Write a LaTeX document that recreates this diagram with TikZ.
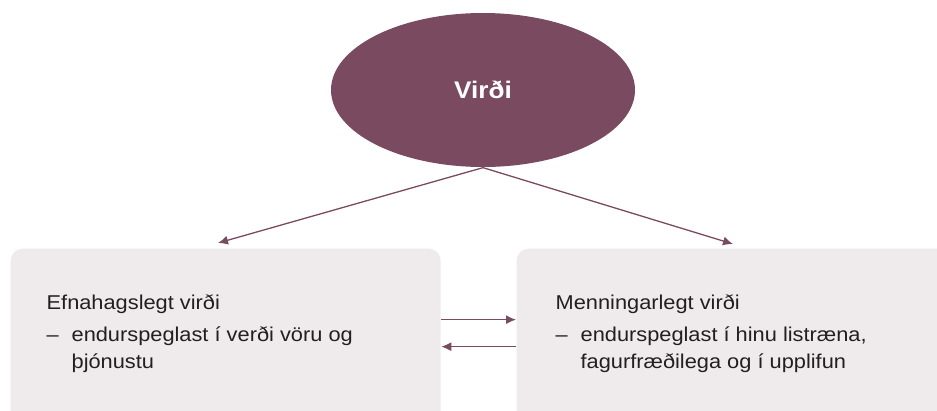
\documentclass[tikz,border=0pt]{standalone}
\usepackage{fontspec}
\setmainfont[FakeStretch=1.09]{Liberation Sans}
\usepackage{tikz}
\usetikzlibrary{arrows.meta,shapes.geometric,positioning}
\definecolor{plum}{HTML}{7A4A60}
\definecolor{boxgray}{HTML}{EFEBEC}
\definecolor{ink}{HTML}{231F20}

\begin{document}
\begin{tikzpicture}[x=1pt,y=-1pt,>={Latex[length=10pt,width=9pt]},line width=1.3pt]
        \tikzstyle{valuebox}=[rectangle,rounded corners=12pt,fill=boxgray,draw=none,minimum height=180pt,anchor=north west]
        \tikzstyle{boxtext}=[inner sep=0pt,align=left,text=ink,font=\fontsize{20}{27}\selectfont]
        \tikzstyle{every edge}=[draw=plum,->]
        \useasboundingbox (0,0) rectangle (937,410);
        \clip (0,0) rectangle (937,410);
        \node[ellipse,fill=plum,minimum width=304pt,minimum height=154pt,text=white,font=\bfseries\fontsize{24}{28}\selectfont] (virdi) at (483,90) {Vir\dh i};
        \node[valuebox,minimum width=430pt]    (efna) at (10,248)  {};
        \node[valuebox,minimum width=450pt]    (menn) at (516,248) {};
        \node[boxtext] (efnatext) [below right=46pt and 36pt of efna.north west]
            {Efnahagslegt vir\dh i\\[5pt]\makebox[25pt][l]{--}endurspeglast í verði vöru og\\\hspace*{25pt}þjónustu};
        \node[boxtext] (menntext) [below right=46pt and 39pt of menn.north west]
            {Menningarlegt vir\dh i\\[5pt]\makebox[25pt][l]{--}endurspeglast í hinu listræna,\\\hspace*{25pt}fagurfræðilega og í upplifun};
        \coordinate (efnatop) at (218,243);
        \coordinate (menntop) at (733,244);
        \path   (virdi.south) edge (efnatop)
                              edge (menntop)
                ([yshift=19pt]efna.east) edge ([yshift=19pt]menn.west)
                ([yshift=-8pt]menn.west) edge ([yshift=-8pt]efna.east);
    \end{tikzpicture}
\end{document}
